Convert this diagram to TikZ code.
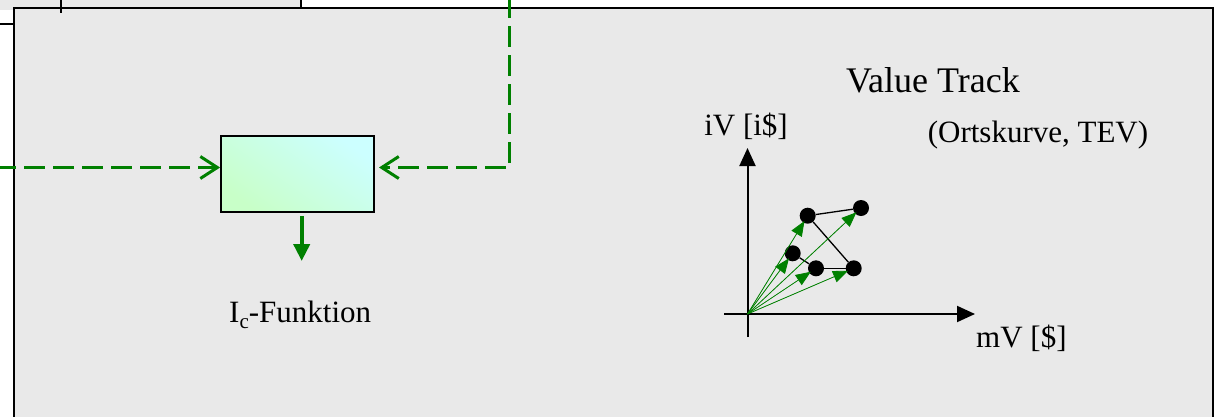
\documentclass[tikz,border=0pt]{standalone}
\usepackage{fontspec}
\setmainfont{Liberation Serif}
\usetikzlibrary{arrows.meta,calc}
\definecolor{boxgray}{HTML}{E9E9E9}
\definecolor{dgreen}{HTML}{008000}
\definecolor{lgreen}{HTML}{C8FFC8}
\definecolor{lcyan}{HTML}{CCFFFF}
\tikzset{
  gdash/.style={draw=dgreen, line width=3pt, dash pattern=on 21pt off 8pt,
    -{Straight Barb[length=17pt,width=22pt,line width=3pt]}},
  funcbox/.style={draw=black, line width=1.8pt, minimum width=153pt, minimum height=76pt,
    inner sep=0pt, top color=lcyan, bottom color=lgreen, shading angle=-35},
  vec/.style={draw=dgreen, line width=0.8pt, -{Triangle[length=15pt,width=12pt]}, fill=dgreen},
  dot/.style={circle, fill=black, minimum size=16pt, inner sep=0pt},
  link/.style={draw=black, line width=1.3pt},
  axis/.style={draw=black, line width=2pt, -{Triangle[length=18pt,width=16pt]}},
  lbl/.style={inner sep=0pt, anchor=base, font=\fontsize{31}{36}\selectfont},
}
\begin{document}
\begin{tikzpicture}[x=1pt,y=-1pt]
\useasboundingbox (0,0) rectangle (1216,416);
% top-left partial box
\fill[boxgray] (-5,-5) rectangle (301,10);
\draw[line width=1.5pt] (301,-5) -- (301,8);
\draw[line width=2pt] (-5,24) -- (14,24);
% main box
\draw[fill=boxgray, line width=2pt] (13.5,7.5) rectangle (1213,440);
\draw[line width=2pt] (61,-5) -- (61,13);
% function box
\node[funcbox] (f) at (297.5,173.8) {};
\coordinate (lin) at (-5,167.5);
\coordinate (top) at (509.3,-3);
\coordinate (rin) at (379,167.5);
\draw[gdash] (lin) -- (lin -| f.west);
\draw[gdash] (top) |- (rin);
\coordinate (d0) at (301.7,216);
\coordinate (d1) at (301.7,261);
\draw[draw=dgreen, line width=4pt, -{Triangle[length=17pt,width=16pt]}] (d0) -- (d1);
\node[lbl, anchor=base west] (ic) at (229,322) {I\raisebox{-6pt}{\fontsize{21}{24}\selectfont c}-Funktion};
% value track
\node[inner sep=0pt, anchor=base, font=\fontsize{36}{42}\selectfont] (vt) at (933,92) {Value Track};
\node[lbl] (ok) at (1038,142) {(Ortskurve, TEV)};
\node[lbl] (iv) at (746,135) {iV [i\$]};
\node[lbl, anchor=base west] (mv) at (976,347) {mV [\$]};
% axes
\coordinate (o) at (747.5,314);
\coordinate (yb) at (747.5,337);
\coordinate (yt) at (747.5,148);
\coordinate (xl) at (724,314);
\coordinate (xr) at (975,314);
\draw[axis] (yb) -- (yt);
\draw[axis] (xl) -- (xr);
% dots
\node[dot] (A) at (807.7,215.7) {};
\node[dot] (B) at (861,208) {};
\node[dot] (C) at (792.7,253.3) {};
\node[dot] (D) at (816,268.3) {};
\node[dot] (E) at (853.7,268.3) {};
\draw[link] (A) -- (B);
\draw[link] (A) -- (E);
\draw[link] (C) -- (D);
\draw[link] (D) -- (E);
\foreach \p in {A,B,C,D,E} \draw[vec, shorten >=-2pt] (o) -- (\p);
\end{tikzpicture}
\end{document}
